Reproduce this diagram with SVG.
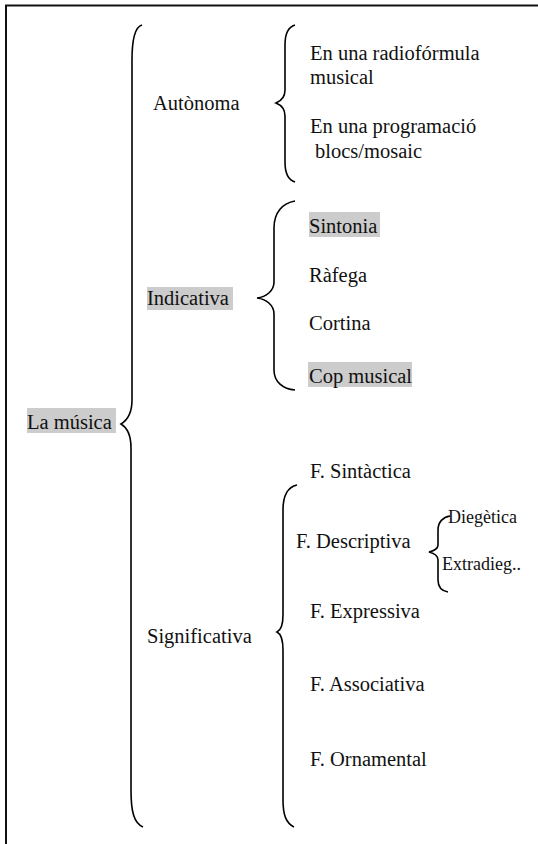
<svg xmlns="http://www.w3.org/2000/svg" width="538" height="844" viewBox="0 0 538 844">
<style>
text{font-family:"Liberation Serif","Times New Roman",serif;font-size:20.5px;fill:#111}
.sm{font-size:18px}
.hl{fill:#cccccc}
.br{fill:none;stroke:#000;stroke-width:1.6}
.frame{fill:none;stroke:#111;stroke-width:2}
</style>
<rect width="538" height="844" fill="#fff"/>
<path class="frame" d="M6,860 L6,5.5 L545,5.5"/>
<g id="connectors">
<path class="br" d="M142,25 C135,27 132,40 132,60 L132,400 C132,414 126,421 121,424 C126,427 131,434 131,448 L131,790 C131,812 134,823 143,827"/>
<path class="br" d="M295,25 C288,27 285,33 285,45 L285,90 C285,97 281,101 276,103 C281,105 285,109 285,116 L285,162 C285,174 288,180 295,182"/>
<path class="br" d="M295,201 C283,203 274,212 274,228 L274,282 C274,291 266,297 257,298 C266,299 274,305 274,314 L274,370 C274,382 283,389 295,390"/>
<path class="br" d="M297,485 C288,487 283,495 283,510 L283,615 C283,625 281,630 277,632 C281,634 283,640 283,650 L283,800 C283,815 286,823 294,827"/>
<path class="br" d="M450,516 C443,517 438,522 438,530 L438,545 C438,549 433,551 429,552 C433,553 438,555 438,560 L438,580 C438,588 442,591 448,592"/>
</g>
<g id="la-musica"><rect class="hl" x="27" y="408" width="89" height="25"/><text x="27" y="429">La música</text></g>
<g id="autonoma"><text x="153" y="110">Autònoma</text></g>
<g id="radioformula"><text x="310" y="60">En una radiofórmula</text><text x="310" y="84">musical</text></g>
<g id="programacio"><text x="310" y="133">En una programació</text><text x="315" y="158">blocs/mosaic</text></g>
<g id="indicativa"><rect class="hl" x="147" y="287" width="86" height="23"/><text x="147" y="305">Indicativa</text></g>
<g id="sintonia"><rect class="hl" x="309" y="212" width="71" height="25"/><text x="309" y="233">Sintonia</text></g>
<g id="rafega"><text x="309" y="282">Ràfega</text></g>
<g id="cortina"><text x="309" y="330">Cortina</text></g>
<g id="cop-musical"><rect class="hl" x="308" y="362" width="104" height="25"/><text x="309" y="383">Cop musical</text></g>
<g id="significativa"><text x="147" y="643">Significativa</text></g>
<g id="sintactica"><text x="310" y="478">F. Sintàctica</text></g>
<g id="descriptiva"><text x="296" y="548">F. Descriptiva</text></g>
<g id="diegetica"><text class="sm" x="448" y="523">Diegètica</text></g>
<g id="extradieg"><text class="sm" x="442" y="570">Extradieg..</text></g>
<g id="expressiva"><text x="310" y="618">F. Expressiva</text></g>
<g id="associativa"><text x="310" y="691">F. Associativa</text></g>
<g id="ornamental"><text x="310" y="766">F. Ornamental</text></g>
</svg>
